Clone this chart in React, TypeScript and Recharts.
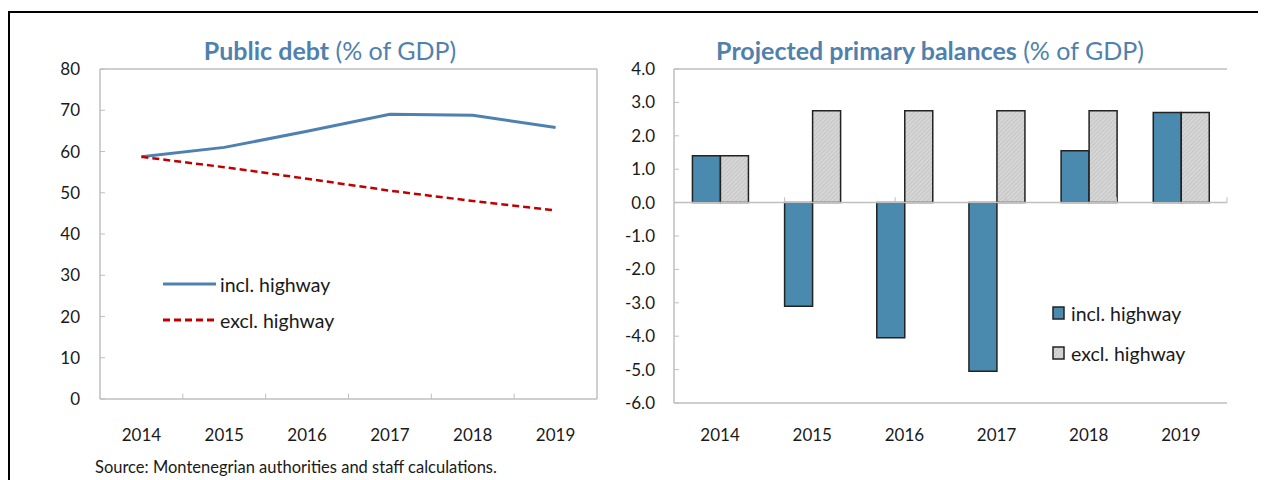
import { Bar, ComposedChart, Line, LineChart, ReferenceLine, XAxis, YAxis } from 'recharts';

const years = [2014, 2015, 2016, 2017, 2018, 2019];

const debtIncl = [58.7, 61.0, 64.9, 69.0, 68.8, 65.8];
const debtExcl = [58.7, 56.2, 53.4, 50.5, 48.0, 45.7];
const debtTicks = [0, 10, 20, 30, 40, 50, 60, 70, 80];

const balIncl = [1.4, -3.1, -4.05, -5.05, 1.55, 2.7];
const balExcl = [1.4, 2.75, 2.75, 2.75, 2.75, 2.7];
const balTicks = [-6, -5, -4, -3, -2, -1, 0, 1, 2, 3, 4];

const seriesNames = { incl: 'incl. highway', excl: 'excl. highway' };

const debtData = years.map((year, i) => ({ year, incl: debtIncl[i], excl: debtExcl[i] }));
const balData = years.map((year, i) => ({ year: String(year), incl: balIncl[i], excl: balExcl[i] }));
// boundaries between year categories
const yearEdges = years.slice(1).map((y) => y - 0.5);
const barEdges = years.slice(1).map((_, i) => i + 1);

const FONT = 'Lato, "Open Sans", sans-serif';
const GRID = '#bfbfbf';
const TEXT = '#1a1a1a';
const TITLE = '#4f81ad';
const BLUE_LINE = '#4f81b0';
const RED = '#c00000';
const BLUE_BAR = '#4a8aae';
const OUTLINE = '#222';

const tickStyle = { fontSize: 17, fill: TEXT, fontFamily: FONT };

const Hatch = ({ id }: { id: string }) => (
  <pattern id={id} width={3} height={3} patternUnits="userSpaceOnUse" patternTransform="rotate(45)">
    <rect width={3} height={3} fill="#d6d6d6" />
    <line x1={0} y1={0} x2={0} y2={3} stroke="#b4b4b4" strokeWidth={1} />
  </pattern>
);

const LineLegend = () => (
  <div style={{ position: 'absolute', left: 155, top: 258, fontFamily: FONT, fontSize: 19.5, color: TEXT }}>
    {(['incl', 'excl'] as const).map((k) => (
      <div key={k} style={{ height: 36, display: 'flex', alignItems: 'center' }}>
        <svg width={57} height={6}>
          <line x1={0} y1={3} x2={53} y2={3} stroke={k === 'excl' ? RED : BLUE_LINE}
            strokeWidth={3} strokeDasharray={k === 'excl' ? '7 4' : undefined} />
        </svg>
        <span>{seriesNames[k]}</span>
      </div>
    ))}
  </div>
);

const BarLegend = () => (
  <div style={{ position: 'absolute', left: 1044, top: 285, fontFamily: FONT, fontSize: 19.5, color: TEXT }}>
    <svg width={0} height={0} style={{ position: 'absolute' }}>
      <defs><Hatch id="legendHatch" /></defs>
    </svg>
    {(['incl', 'excl'] as const).map((k) => (
      <div key={k} style={{ height: 40, display: 'flex', alignItems: 'center' }}>
        <svg width={19} height={15}>
          <rect x={1} y={1} width={11} height={12} stroke={OUTLINE} strokeWidth={1.5}
            fill={k === 'excl' ? 'url(#legendHatch)' : BLUE_BAR} />
        </svg>
        <span>{seriesNames[k]}</span>
      </div>
    ))}
  </div>
);

const Title = ({ bold, rest, center }: { bold: string; rest: string; center: number }) => (
  <div style={{ position: 'absolute', left: center - 300, width: 600, top: 27, lineHeight: '30px', textAlign: 'center',
    fontFamily: FONT, fontSize: 25, color: TITLE }}>
    <b>{bold}</b> {rest}
  </div>
);

const DebtChart = () => (
  <LineChart width={605} height={460} data={debtData} margin={{ top: 61, right: 16, bottom: 29, left: 32 }}>
    <XAxis dataKey="year" type="number" domain={[2013.5, 2019.5]} ticks={years} interval={0} tick={tickStyle}
      tickLine={false} tickSize={0} tickMargin={30} height={40} axisLine={{ stroke: GRID, strokeWidth: 1.5 }} />
    <YAxis domain={[0, 80]} ticks={debtTicks} interval={0} width={60} tick={tickStyle} tickSize={-5} tickMargin={25}
      axisLine={{ stroke: GRID, strokeWidth: 1.5 }} tickLine={{ stroke: GRID }} />
    <ReferenceLine y={80} stroke={GRID} strokeWidth={1.5} />
    <ReferenceLine x={2019.5} stroke={GRID} strokeWidth={1.5} />
    {yearEdges.map((b) => (
      <ReferenceLine key={b} segment={[{ x: b, y: 0 }, { x: b, y: 1.3 }]} stroke={GRID} />
    ))}
    <Line dataKey="incl" name={seriesNames.incl} stroke={BLUE_LINE} strokeWidth={3} dot={false} isAnimationActive={false} />
    <Line dataKey="excl" name={seriesNames.excl} stroke={RED} strokeWidth={2.5} strokeDasharray="7 4" dot={false} isAnimationActive={false} />
  </LineChart>
);

const BalanceChart = () => (
  <ComposedChart width={640} height={460} data={balData} barCategoryGap="20%" barGap={0}
    margin={{ top: 61, right: 23, bottom: 20, left: 4 }}>
    <defs><Hatch id="hatch" /></defs>
    <XAxis dataKey="year" tick={tickStyle} tickLine={false} tickSize={0} tickMargin={26} height={45}
      axisLine={{ stroke: GRID, strokeWidth: 1.5 }} />
    <XAxis xAxisId="grid" type="number" domain={[0, 6]} hide />
    <YAxis domain={[-6, 4]} ticks={balTicks} interval={0} width={60} tick={tickStyle} tickSize={-5} tickMargin={24}
      tickFormatter={(v: number) => v.toFixed(1)} axisLine={{ stroke: GRID, strokeWidth: 1.5 }} tickLine={{ stroke: GRID }} />
    <ReferenceLine y={4} stroke={GRID} strokeWidth={1.5} />
    <ReferenceLine xAxisId="grid" x={6} stroke={GRID} strokeWidth={1.5} />
    <ReferenceLine y={0} stroke={GRID} strokeWidth={1.5} />
    {barEdges.map((b) => (
      <ReferenceLine key={b} xAxisId="grid" segment={[{ x: b, y: 0 }, { x: b, y: 0.16 }]} stroke={GRID} />
    ))}
    <Bar dataKey="incl" name={seriesNames.incl} fill={BLUE_BAR} stroke={OUTLINE} strokeWidth={1.5} isAnimationActive={false} />
    <Bar dataKey="excl" name={seriesNames.excl} fill="url(#hatch)" stroke={OUTLINE} strokeWidth={1.5} isAnimationActive={false} />
  </ComposedChart>
);

export default function App() {
  return (
    <div style={{ position: 'relative', width: 1258, height: 472, overflow: 'hidden', background: '#fff' }}>
      <div style={{ position: 'absolute', left: 0, top: 3, width: 1254, height: 520,
        borderTop: '2px solid #000', borderLeft: '2px solid #000' }} />
      <div style={{ position: 'absolute', left: 0, top: 0 }}>
        <DebtChart />
      </div>
      <div style={{ position: 'absolute', left: 602, top: 0 }}>
        <BalanceChart />
      </div>
      <Title bold="Public debt" rest="(% of GDP)" center={322} />
      <Title bold="Projected primary balances" rest="(% of GDP)" center={922} />
      <LineLegend />
      <BarLegend />
      <div style={{ position: 'absolute', left: 87, top: 449, fontFamily: FONT, fontSize: 16.5, color: TEXT }}>
        Source: Montenegrian authorities and staff calculations.
      </div>
    </div>
  );
}
